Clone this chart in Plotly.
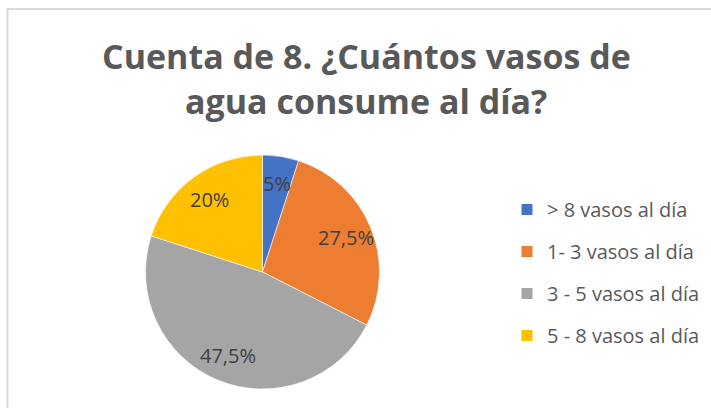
import math
import plotly.graph_objects as go

# Survey answers: how many glasses of water per day (count of responses)
categories = ["> 8 vasos al día", "1- 3 vasos al día", "3 - 5 vasos al día", "5 - 8 vasos al día"]
counts = [2, 11, 19, 8]
colors = ["#4472C4", "#ED7D31", "#A5A5A5", "#FFC000"]

title_lines = ["Cuenta de 8. ¿Cuántos vasos de", "agua consume al día?"]

W, H = 711, 408
FONT = "Open Sans"

# Pie placement (pixels)
cx, cy, R = 262.5, 272, 117
label_radius = 0.77  # data labels sit at this fraction of the radius

fig = go.Figure()

fig.add_trace(go.Pie(
    labels=categories,
    values=counts,
    sort=False,
    direction="clockwise",
    rotation=0,
    marker=dict(colors=colors, line=dict(color="white", width=0.6)),
    textinfo="none",
    domain=dict(x=[(cx - R) / W, (cx + R) / W], y=[(H - cy - R) / H, (H - cy + R) / H]),
    showlegend=False,
    hoverinfo="label+percent",
))

# Percentage labels placed at the middle angle of each slice
total = sum(counts)
start = 0.0
for v in counts:
    frac = v / total
    mid = (start + frac / 2) * 2 * math.pi
    start += frac
    px = cx + label_radius * R * math.sin(mid)
    py = cy - label_radius * R * math.cos(mid)
    txt = f"{frac * 100:.1f}".rstrip("0").rstrip(".").replace(".", ",") + "%"
    fig.add_annotation(
        text=txt, xref="paper", yref="paper",
        x=px / W, y=1 - py / H, xanchor="center", yanchor="middle",
        showarrow=False,
        font=dict(family=FONT, size=20, color="#404040"),
    )

# Legend entries (one group per category so they can be spaced apart)
for name, col in zip(categories, colors):
    fig.add_trace(go.Scatter(
        x=[None], y=[None], mode="markers", name=name,
        legendgroup=name,
        marker=dict(symbol="square", size=11, color=col),
    ))

# Two-line title
for i, line in enumerate(title_lines):
    fig.add_annotation(
        text=line, xref="paper", yref="paper",
        x=366 / W, y=1 - (56 + 45 * i) / H, xanchor="center", yanchor="middle",
        showarrow=False,
        font=dict(family=FONT, size=34, color="#595959", weight="bold"),
    )

# Chart-area frame
fig.add_shape(type="rect", xref="paper", yref="paper",
              x0=7.5 / W, x1=1.05, y0=-0.05, y1=1 - 9 / H,
              line=dict(color="#D9D9D9", width=2))

fig.update_layout(
    width=W, height=H,
    margin=dict(l=0, r=0, t=0, b=0),
    paper_bgcolor="white", plot_bgcolor="white",
    xaxis=dict(visible=False), yaxis=dict(visible=False),
    showlegend=True,
    legend=dict(
        x=507 / W, y=1 - 190 / H, xanchor="left", yanchor="top",
        traceorder="grouped", tracegroupgap=13,
        font=dict(family=FONT, size=20, color="#595959"),
        bgcolor="rgba(0,0,0,0)",
    ),
)

fig.write_html("out.html")
